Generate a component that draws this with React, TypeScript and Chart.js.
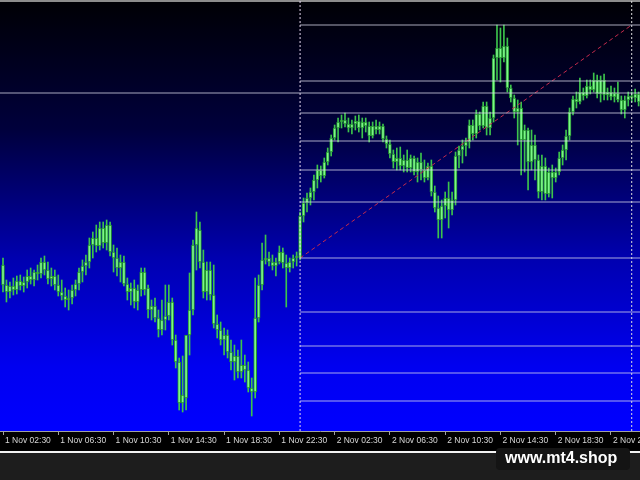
import React, { useEffect, useRef } from "react";
import { Chart, registerables } from "chart.js";

Chart.register(...registerables);

// 15-minute candles, price in points: [open, high, low, close]
const ohlc: number[][] = [
  [235, 242, 208, 215], [215, 220, 198, 208], [208, 218, 202, 214], [214, 222, 205, 210], [210, 224, 206, 219],
  [219, 225, 210, 214], [214, 223, 208, 218], [218, 230, 212, 224], [224, 232, 216, 220], [220, 230, 214, 228],
  [228, 235, 220, 226], [226, 242, 222, 238], [238, 244, 225, 230], [230, 238, 216, 221], [221, 232, 214, 224],
  [224, 230, 210, 215], [215, 225, 204, 208], [208, 220, 200, 204], [204, 212, 193, 200], [200, 210, 190, 202],
  [202, 215, 196, 210], [210, 220, 204, 216], [216, 232, 210, 228], [228, 240, 218, 234], [234, 245, 225, 238],
  [238, 262, 232, 255], [255, 268, 242, 262], [262, 275, 248, 254], [254, 278, 250, 272], [272, 278, 252, 257],
  [257, 280, 250, 275], [275, 278, 244, 248], [248, 255, 228, 242], [242, 252, 224, 232], [232, 245, 218, 238],
  [238, 244, 214, 216], [216, 222, 200, 208], [208, 217, 195, 212], [212, 220, 192, 198], [198, 215, 190, 210],
  [210, 232, 204, 228], [228, 232, 205, 210], [212, 215, 182, 190], [190, 200, 180, 194], [194, 202, 178, 182],
  [182, 190, 163, 170], [170, 200, 165, 180], [180, 215, 170, 184], [184, 215, 180, 198], [198, 202, 155, 160],
  [160, 165, 132, 138], [138, 142, 90, 97], [97, 144, 88, 105], [102, 145, 90, 165], [165, 227, 145, 190],
  [190, 260, 185, 255], [255, 288, 230, 272], [270, 278, 232, 238], [238, 250, 202, 208], [208, 238, 200, 230],
  [230, 238, 200, 205], [205, 235, 172, 176], [176, 185, 162, 170], [170, 178, 155, 160], [160, 172, 145, 165],
  [165, 170, 142, 148], [148, 160, 130, 138], [138, 155, 120, 144], [144, 150, 122, 128], [128, 160, 122, 135],
  [135, 145, 118, 130], [130, 138, 108, 112], [112, 122, 84, 108], [108, 222, 102, 182], [182, 225, 178, 215],
  [215, 257, 210, 240], [240, 265, 236, 242], [242, 248, 234, 238], [238, 245, 230, 234], [234, 242, 224, 238],
  [238, 254, 236, 248], [248, 252, 232, 237], [237, 245, 193, 232], [232, 242, 228, 238], [238, 245, 232, 242],
  [242, 248, 234, 244], [242, 288, 240, 284], [284, 302, 278, 297], [297, 307, 288, 302], [302, 312, 295, 308],
  [308, 325, 300, 320], [320, 335, 312, 330], [330, 334, 318, 324], [324, 342, 322, 338], [338, 352, 335, 348],
  [348, 365, 344, 362], [362, 375, 360, 372], [372, 382, 358, 378], [378, 385, 372, 380], [380, 387, 373, 376],
  [376, 382, 368, 372], [372, 380, 366, 376], [376, 384, 370, 379], [379, 385, 368, 372], [372, 382, 362, 378],
  [378, 382, 368, 374], [374, 378, 358, 364], [364, 378, 362, 374], [374, 380, 366, 370], [370, 378, 366, 374],
  [374, 376, 358, 361], [361, 364, 352, 356], [356, 360, 342, 346], [346, 350, 332, 338], [338, 352, 330, 342],
  [342, 353, 330, 334], [334, 345, 328, 340], [340, 350, 328, 332], [332, 345, 328, 342], [342, 344, 325, 328],
  [328, 342, 318, 338], [338, 347, 320, 330], [330, 340, 318, 322], [322, 337, 320, 334], [334, 340, 304, 308],
  [308, 314, 288, 292], [292, 304, 262, 280], [280, 300, 262, 294], [294, 308, 282, 302], [302, 318, 272, 290],
  [290, 308, 285, 300], [300, 348, 295, 344], [344, 354, 332, 350], [350, 360, 337, 354], [354, 362, 344, 358],
  [358, 380, 352, 375], [375, 380, 360, 366], [366, 390, 362, 386], [386, 388, 370, 374], [374, 398, 372, 394],
  [394, 398, 365, 372], [372, 388, 365, 382], [382, 445, 378, 442], [442, 475, 420, 452], [452, 472, 418, 442],
  [442, 475, 438, 454], [454, 462, 408, 412], [412, 415, 398, 402], [402, 405, 382, 388], [388, 400, 355, 392],
  [392, 398, 325, 360], [360, 375, 328, 370], [370, 372, 310, 338], [338, 370, 330, 355], [355, 365, 320, 340],
  [340, 345, 302, 308], [308, 345, 300, 334], [334, 342, 300, 306], [306, 332, 303, 328], [328, 335, 302, 322],
  [322, 332, 318, 328], [328, 348, 325, 342], [342, 355, 335, 350], [350, 370, 340, 364], [364, 392, 360, 388],
  [388, 404, 385, 401], [401, 408, 392, 398], [398, 422, 396, 408], [408, 412, 400, 404], [404, 420, 402, 414],
  [414, 420, 406, 410], [410, 427, 408, 420], [420, 425, 402, 406], [406, 424, 398, 420], [420, 426, 400, 405],
  [405, 412, 400, 408], [408, 414, 400, 403], [403, 412, 398, 407], [407, 418, 398, 400], [400, 404, 386, 390],
  [390, 404, 382, 400], [400, 408, 394, 404], [404, 408, 398, 402], [402, 411, 398, 406], [406, 408, 394, 398],
];

const tickIndex = [0, 16, 32, 48, 64, 80, 96, 112, 128, 144, 160, 176];
const tickLabels = [
  "1 Nov 02:30", "1 Nov 06:30", "1 Nov 10:30", "1 Nov 14:30", "1 Nov 18:30", "1 Nov 22:30",
  "2 Nov 02:30", "2 Nov 06:30", "2 Nov 10:30", "2 Nov 14:30", "2 Nov 18:30", "2 Nov 22:30",
];

const fibLevels = [475, 419, 387, 359, 330, 298, 242, 188, 154, 127, 99];
const fibStartIndex = 86;
const horizontalLevel = 407;
const separatorIndex = [86, 182];
const trendFrom = [86, 242];
const trendTo = [182, 475];

const Y_MIN = 69;
const Y_MAX = 500;
const X_MIN = -0.87;
const X_MAX = 184.4;

const bgPlugin = {
  id: "mtBackground",
  beforeDraw(chart: any) {
    const { ctx, chartArea: a, width, height } = chart;
    ctx.save();
    ctx.fillStyle = "#1d1d1d";
    ctx.fillRect(0, 0, width, height);
    const g = ctx.createLinearGradient(0, a.top, 0, a.bottom);
    g.addColorStop(0, "#000004");
    g.addColorStop(0.3, "#00003c");
    g.addColorStop(0.6, "#0000b0");
    g.addColorStop(0.85, "#0000f0");
    g.addColorStop(1, "#0000ff");
    ctx.fillStyle = g;
    ctx.fillRect(a.left, a.top, a.right - a.left, a.bottom - a.top);
    ctx.fillStyle = "#000000";
    ctx.fillRect(0, a.bottom, width, 20);
    ctx.fillStyle = "#f2f2f2";
    ctx.fillRect(0, a.bottom + 20, width, 2);
    ctx.fillStyle = "#8c8c8c";
    ctx.fillRect(0, 0, width, 2);
    ctx.restore();
  },
  afterDraw(chart: any) {
    const { ctx } = chart;
    ctx.save();
    ctx.fillStyle = "#141414";
    ctx.beginPath();
    (ctx as any).roundRect(496, 448, 134, 22, 4);
    ctx.fill();
    ctx.fillStyle = "#ffffff";
    ctx.font = 'bold 16px "Liberation Sans", Arial, sans-serif';
    ctx.textBaseline = "alphabetic";
    ctx.fillText("www.mt4.shop", 505, 463);
    ctx.restore();
  },
};

const lineStyle = (color: string, dash: number[] = []) => ({
  type: "line" as const,
  borderColor: color,
  borderWidth: 1,
  borderDash: dash,
  pointRadius: 0,
  fill: false,
  tension: 0,
  order: 0,
});

export default function App() {
  const ref = useRef<HTMLCanvasElement | null>(null);

  useEffect(() => {
    if (!ref.current) return;
    const wicks = ohlc.map((c, i) => ({ x: i, y: [c[2], c[1]] }));
    const bodies = ohlc.map((c, i) => ({ x: i, y: [c[0], c[3]] }));
    const levelColor = "rgba(215,215,235,0.78)";

    const datasets: any[] = [
      { ...lineStyle(levelColor), data: [{ x: X_MIN, y: horizontalLevel }, { x: X_MAX, y: horizontalLevel }] },
      ...fibLevels.map((lv) => ({
        ...lineStyle(levelColor),
        data: [{ x: fibStartIndex, y: lv }, { x: X_MAX, y: lv }],
      })),
      ...separatorIndex.map((s, k) => ({
        ...lineStyle(k === 0 ? "#e4d6ee" : "#dcdcdc", [2, 2]),
        data: [{ x: s, y: Y_MIN }, { x: s, y: Y_MAX }],
      })),
      {
        ...lineStyle("#c42a4c", [4, 3]),
        data: [{ x: trendFrom[0], y: trendFrom[1] }, { x: trendTo[0], y: trendTo[1] }],
      },
      {
        type: "bar",
        data: wicks,
        barThickness: 1,
        backgroundColor: "#3cc44c",
        borderWidth: 0,
        grouped: false,
        order: 2,
      },
      {
        type: "bar",
        data: bodies,
        barThickness: 3,
        backgroundColor: "#7cf788",
        borderColor: "#23922f",
        borderWidth: 1,
        borderSkipped: false,
        minBarLength: 1,
        grouped: false,
        order: 1,
      },
    ];

    const chart = new Chart(ref.current, {
      type: "bar",
      data: { datasets },
      plugins: [bgPlugin],
      options: {
        animation: false,
        responsive: false,
        layout: { padding: 0 },
        plugins: { legend: { display: false }, tooltip: { enabled: false } },
        scales: {
          x: {
            type: "linear",
            min: X_MIN,
            max: X_MAX,
            offset: false,
            afterBuildTicks: (scale: any) => {
              scale.ticks = tickIndex.map((v) => ({ value: v }));
            },
            afterFit: (scale: any) => {
              scale.height = 49;
              scale.paddingLeft = 0;
              scale.paddingRight = 0;
            },
            ticks: {
              autoSkip: false,
              maxRotation: 0,
              align: "start",
              labelOffset: 2,
              padding: 1,
              color: "#d6d6d6",
              font: { family: '"Liberation Sans", Arial, sans-serif', size: 8.5 },
              callback: (v: any) => {
                const k = tickIndex.indexOf(Number(v));
                return k >= 0 ? tickLabels[k] : "";
              },
            },
            grid: {
              display: true,
              offset: false,
              drawOnChartArea: false,
              drawTicks: true,
              tickLength: 4,
              color: "#a0a0a0",
            },
            border: { display: true, color: "#a0a0a0" },
          },
          y: {
            display: false,
            min: Y_MIN,
            max: Y_MAX,
          },
        },
      } as any,
    });
    return () => chart.destroy();
  }, []);

  return (
    <div style={{ position: "fixed", left: 0, top: 0, width: 640, height: 480 }}>
      <canvas ref={ref} width={640} height={480} />
    </div>
  );
}
